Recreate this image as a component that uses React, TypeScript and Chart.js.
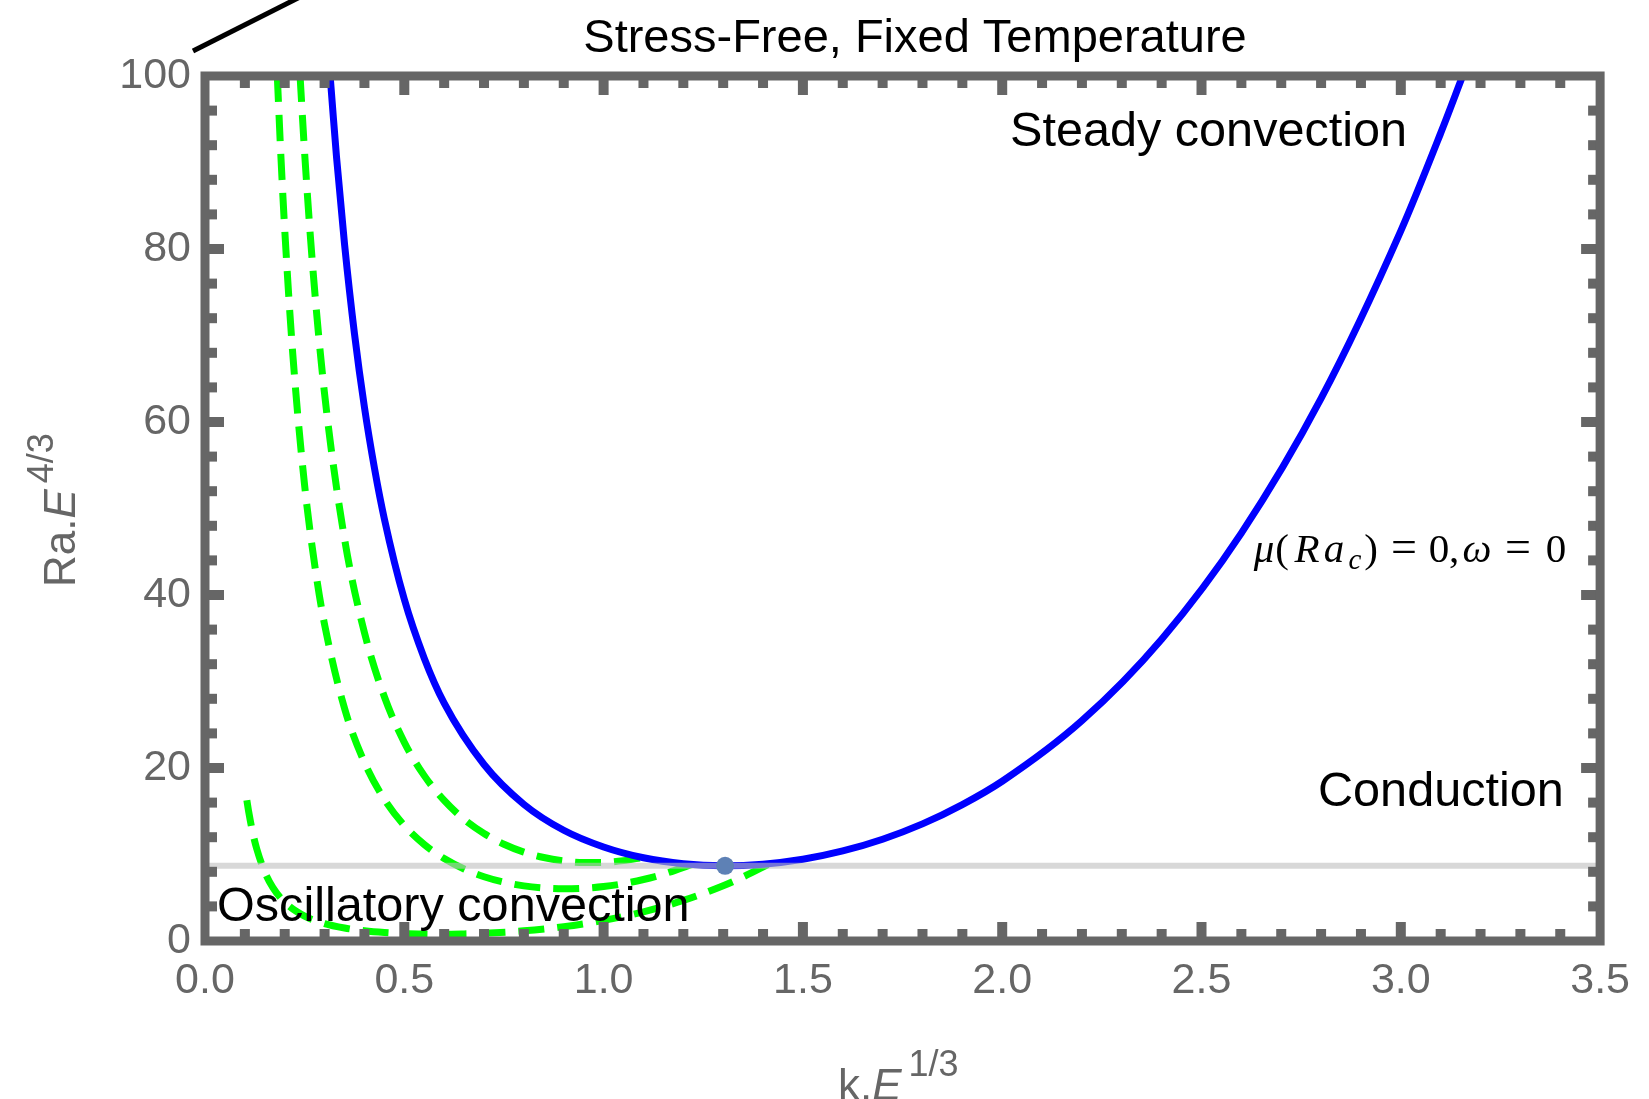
import React, { useEffect, useRef } from 'react';
import { Chart, registerables } from 'chart.js';

Chart.register(...registerables);

// ---- Data ----
// Steady convection onset curve  mu(Ra_c)=0, omega=0
const kSteady = [0.314, 0.32, 0.33, 0.35, 0.375, 0.4, 0.425, 0.45, 0.5, 0.55, 0.6, 0.7, 0.8, 0.9, 1.0, 1.1, 1.2, 1.3, 1.4, 1.5, 1.6, 1.7, 1.8, 1.9, 2.0, 2.2, 2.4, 2.6, 2.8, 3.0, 3.1, 3.155];
const raSteady = [100, 96.4, 90.6, 80.6, 70.2, 61.7, 54.7, 48.8, 39.5, 32.7, 27.5, 20.4, 15.8, 12.8, 10.87, 9.62, 8.93, 8.7, 8.88, 9.45, 10.41, 11.77, 13.54, 15.77, 18.47, 25.47, 34.89, 47.16, 62.73, 82.1, 93.4, 100];

// Oscillatory branches (green dashed)
const kOscA = [0.1814, 0.19, 0.2, 0.22, 0.25, 0.28, 0.3, 0.35, 0.4, 0.45, 0.5, 0.55, 0.6, 0.65, 0.7, 0.75, 0.8, 0.85, 0.9, 0.95, 1.0, 1.05, 1.1, 1.15, 1.2, 1.22];
const raOscA = [100, 91.1, 82.25, 67.98, 52.65, 41.98, 36.58, 26.9, 20.64, 16.37, 13.35, 11.15, 9.53, 8.32, 7.43, 6.8, 6.37, 6.12, 6.03, 6.09, 6.29, 6.63, 7.11, 7.73, 8.51, 8.86];

const kOscB = [0.2385, 0.25, 0.27, 0.3, 0.35, 0.4, 0.45, 0.5, 0.55, 0.6, 0.65, 0.7, 0.75, 0.8, 0.85, 0.9, 0.95, 1.0, 1.05, 1.097];
const raOscB = [100, 91.05, 78.07, 63.24, 46.5, 35.65, 28.24, 22.97, 19.12, 16.25, 14.07, 12.43, 11.19, 10.28, 9.65, 9.26, 9.07, 9.09, 9.29, 9.65];

const kOscC = [0.105, 0.11, 0.12, 0.13, 0.15, 0.17, 0.2, 0.25, 0.3, 0.35, 0.4, 0.45, 0.5, 0.55, 0.6, 0.65, 0.7, 0.8, 0.9, 1.0, 1.1, 1.2, 1.3, 1.35, 1.416];
const raOscC = [16.28, 14.83, 12.46, 10.62, 7.98, 6.21, 4.49, 2.88, 2.01, 1.5, 1.18, 0.98, 0.86, 0.8, 0.78, 0.82, 0.89, 1.18, 1.66, 2.38, 3.37, 4.69, 6.39, 7.41, 8.93];

// Critical horizontal line and critical point
const kCritLine = [0, 3.5];
const raCritLine = [8.6956, 8.6956];
const kCrit = [1.3048];
const raCrit = [8.6956];

// Axis ticks
const xMin = 0, xMax = 3.5, xMajorStep = 0.5, xMinorStep = 0.1;
const yMin = 0, yMax = 100, yMajorStep = 20, yMinorStep = 4;

// Texts
const titleText = 'Stress-Free, Fixed Temperature';
const steadyLabel = 'Steady convection';
const conductionLabel = 'Conduction';
const oscLabel = 'Oscillatory convection';

const SANS = '"Liberation Sans", Arial, Helvetica, sans-serif';
const SERIF = '"Liberation Serif", "Times New Roman", serif';
const FRAME = '#666666';

const pts = (xs: number[], ys: number[]) => xs.map((x, i) => ({ x, y: ys[i] }));

type Run = { t: string; font: string; dy?: number; pre?: number };
function drawRuns(ctx: CanvasRenderingContext2D, runs: Run[], x0: number, y0: number) {
  let x = x0;
  for (const r of runs) {
    ctx.font = r.font;
    x += r.pre || 0;
    ctx.fillText(r.t, x, y0 + (r.dy || 0));
    x += ctx.measureText(r.t).width;
  }
}

const framePlugin = {
  id: 'frameTicks',
  afterDatasetsDraw(chart: any) {
    const { ctx, chartArea } = chart;
    const { left, right, top, bottom } = chartArea;
    const xs = chart.scales.x;
    const ys = chart.scales.y;
    ctx.save();
    ctx.fillStyle = FRAME;
    const tw = 10;
    const nx = Math.round((xMax - xMin) / xMinorStep);
    for (let i = 1; i < nx; i++) {
      const v = xMin + i * xMinorStep;
      const px = xs.getPixelForValue(v);
      const major = i % Math.round(xMajorStep / xMinorStep) === 0;
      const L = major ? 19 : 12;
      ctx.fillRect(px - tw / 2, bottom - L, tw, L);
      ctx.fillRect(px - tw / 2, top, tw, L);
    }
    const ny = Math.round((yMax - yMin) / yMinorStep);
    for (let i = 1; i < ny; i++) {
      const v = yMin + i * yMinorStep;
      const py = ys.getPixelForValue(v);
      const major = i % Math.round(yMajorStep / yMinorStep) === 0;
      const L = major ? 19 : 12;
      ctx.fillRect(left, py - tw / 2, L, tw);
      ctx.fillRect(right - L, py - tw / 2, L, tw);
    }
    ctx.strokeStyle = FRAME;
    ctx.lineWidth = 9;
    ctx.lineJoin = 'miter';
    ctx.strokeRect(left, top, right - left, bottom - top);
    ctx.restore();
  },
  afterDraw(chart: any) {
    const { ctx } = chart;
    ctx.save();
    ctx.textAlign = 'left';
    ctx.textBaseline = 'alphabetic';

    // decorative black stroke at top-left
    ctx.strokeStyle = '#000';
    ctx.lineWidth = 5;
    ctx.lineCap = 'butt';
    ctx.beginPath();
    ctx.moveTo(193, 51);
    ctx.lineTo(300, -3);
    ctx.stroke();

    // title
    ctx.fillStyle = '#000';
    ctx.font = `47px ${SANS}`;
    ctx.textAlign = 'center';
    ctx.fillText(titleText, 915, 52);
    ctx.textAlign = 'left';

    // region labels
    ctx.font = `48.6px ${SANS}`;
    ctx.fillText(steadyLabel, 1010, 146);
    ctx.fillText(conductionLabel, 1318, 806);
    ctx.fillText(oscLabel, 217, 921);

    // mu(Ra_c) = 0, omega = 0
    const base = 562;
    const it = `italic 41px ${SERIF}`;
    const rm = `41px ${SERIF}`;
    const pieces: { t: string; cx: number; f: string; dy?: number }[] = [
      { t: 'μ', cx: 1264, f: it },
      { t: '(', cx: 1282, f: rm },
      { t: 'R', cx: 1307, f: it },
      { t: 'a', cx: 1334, f: it },
      { t: 'c', cx: 1355, f: `italic 29px ${SERIF}`, dy: 7 },
      { t: ')', cx: 1371, f: rm },
      { t: '=', cx: 1404, f: `46px ${SERIF}` },
      { t: '0', cx: 1439, f: rm },
      { t: ',', cx: 1454, f: rm },
      { t: 'ω', cx: 1477, f: it },
      { t: '=', cx: 1518, f: `46px ${SERIF}` },
      { t: '0', cx: 1556, f: rm },
    ];
    ctx.textAlign = 'center';
    for (const p of pieces) {
      ctx.font = p.f;
      ctx.fillText(p.t, p.cx, base + (p.dy || 0));
    }
    ctx.textAlign = 'left';

    // axis titles
    ctx.fillStyle = '#666';
    drawRuns(ctx, [
      { t: 'k.', font: `44px ${SANS}` },
      { t: 'E', font: `italic 44px ${SANS}` },
      { t: '1/3', font: `36px ${SANS}`, dy: -24, pre: 7 },
    ], 838, 1100);

    ctx.save();
    ctx.translate(75, 587);
    ctx.rotate(-Math.PI / 2);
    drawRuns(ctx, [
      { t: 'Ra.', font: `44px ${SANS}` },
      { t: 'E', font: `italic 44px ${SANS}` },
      { t: '4/3', font: `36px ${SANS}`, dy: -22, pre: 6 },
    ], 0, 0);
    ctx.restore();

    ctx.restore();
  },
};

export default function App() {
  const ref = useRef<HTMLCanvasElement | null>(null);
  useEffect(() => {
    if (!ref.current) return;
    const lineBase = { showLine: true, pointRadius: 0, fill: false, cubicInterpolationMode: 'monotone' as const };
    const chart = new Chart(ref.current, {
      type: 'scatter',
      data: {
        datasets: [
          {
            label: 'critical point',
            data: pts(kCrit, raCrit),
            showLine: false,
            pointRadius: 9,
            pointBackgroundColor: '#5e81b5',
            pointBorderWidth: 0,
          },
          {
            ...lineBase,
            label: 'Ra_c',
            data: pts(kCritLine, raCritLine),
            borderColor: 'rgba(190,190,190,0.6)',
            borderWidth: 6,
          },
          {
            ...lineBase,
            label: 'steady',
            data: pts(kSteady, raSteady),
            borderColor: '#0000ff',
            borderWidth: 7,
          },
          {
            ...lineBase,
            label: 'osc A',
            data: pts(kOscA, raOscA),
            borderColor: '#00ff00',
            borderWidth: 7,
            borderDash: [26, 13],
          },
          {
            ...lineBase,
            label: 'osc B',
            data: pts(kOscB, raOscB),
            borderColor: '#00ff00',
            borderWidth: 7,
            borderDash: [26, 13],
          },
          {
            ...lineBase,
            label: 'osc C',
            data: pts(kOscC, raOscC),
            borderColor: '#00ff00',
            borderWidth: 7,
            borderDash: [26, 13],
          },
        ],
      },
      options: {
        animation: false,
        responsive: true,
        maintainAspectRatio: false,
        layout: { padding: { left: 0, top: 76, right: 48, bottom: 0 } },
        plugins: {
          legend: { display: false },
          tooltip: { enabled: false },
          title: { display: false },
        },
        scales: {
          x: {
            type: 'linear',
            position: 'bottom',
            min: xMin,
            max: xMax,
            grid: { display: false, drawTicks: false },
            border: { display: false },
            ticks: {
              stepSize: xMajorStep,
              padding: 19,
              color: '#666',
              font: { family: SANS, size: 43, lineHeight: 1 },
              maxRotation: 0,
              autoSkip: false,
              callback: (v: any) => Number(v).toFixed(1),
            },
            afterFit: (s: any) => { s.height = 158; },
          },
          y: {
            type: 'linear',
            min: yMin,
            max: yMax,
            grid: { display: false, drawTicks: false },
            border: { display: false },
            ticks: {
              stepSize: yMajorStep,
              padding: 14,
              color: '#666',
              font: { family: SANS, size: 43, lineHeight: 1 },
              autoSkip: false,
            },
            afterFit: (s: any) => { s.width = 205; },
          },
        },
      },
      plugins: [framePlugin],
    });
    return () => chart.destroy();
  }, []);

  return (
    <div style={{ position: 'fixed', left: 0, top: 0, width: 1649, height: 1099, background: '#fff' }}>
      <canvas ref={ref} />
    </div>
  );
}
